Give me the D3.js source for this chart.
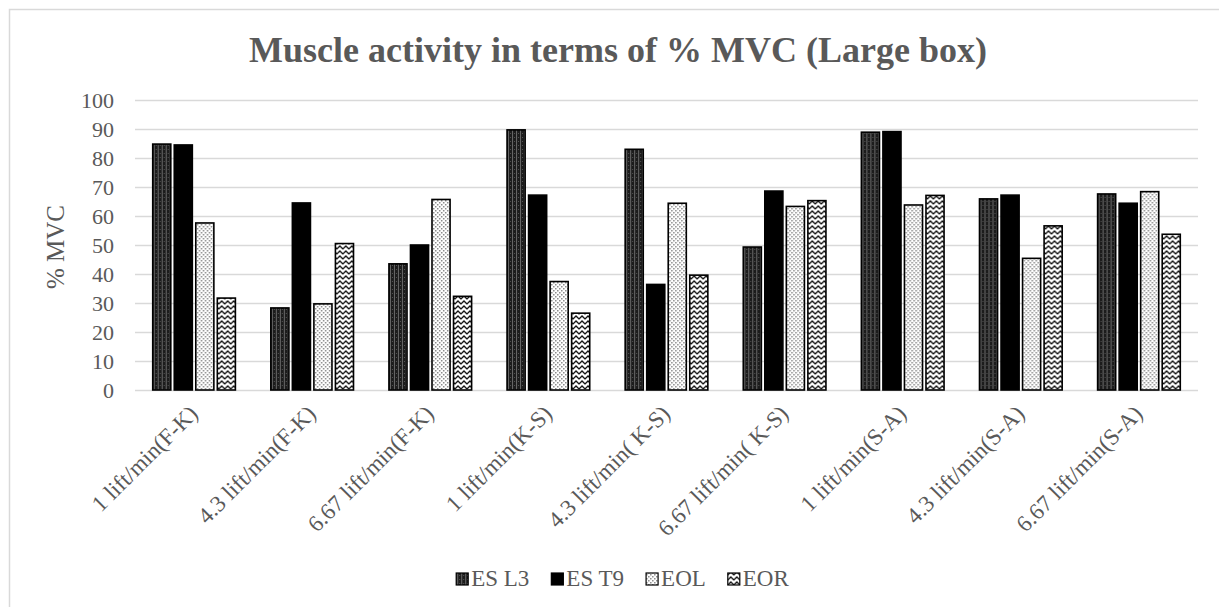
<!DOCTYPE html>
<html><head><meta charset="utf-8">
<script src="https://cdn.jsdelivr.net/npm/d3@7"></script>
<style>html,body{margin:0;padding:0;background:#fff;}svg{display:block;}</style>
</head><body>
<script>
const categories = ["1 lift/min(F-K)","4.3 lift/min(F-K)","6.67 lift/min(F-K)","1 lift/min(K-S)","4.3 lift/min( K-S)","6.67 lift/min( K-S)","1 lift/min(S-A)","4.3 lift/min(S-A)","6.67 lift/min(S-A)"];
const seriesNames = ["ES L3","ES T9","EOL","EOR"];
const esL3 = [84.8, 28.3, 43.5, 89.7, 83.0, 49.3, 88.9, 65.9, 67.6];
const esT9 = [84.5, 64.5, 50.0, 67.2, 36.4, 68.6, 89.1, 67.2, 64.4];
const eol  = [57.6, 29.7, 65.7, 37.4, 64.4, 63.3, 63.8, 45.4, 68.4];
const eor  = [31.7, 50.5, 32.3, 26.5, 39.6, 65.3, 67.1, 56.6, 53.7];
const yTicks = [0,10,20,30,40,50,60,70,80,90,100];
const titleText = "Muscle activity in terms of % MVC (Large box)";
const yTitle = "% MVC";

const seriesValues = [esL3, esT9, eol, eor];
const W = 1219, H = 607;
const txt = "#595959";
const serif = "'Liberation Serif','Times New Roman',serif";

const svg = d3.select("body").append("svg").attr("width", W).attr("height", H);
const defs = svg.append("defs");

const p1 = defs.append("pattern").attr("id","pL3").attr("patternUnits","userSpaceOnUse").attr("width",4).attr("height",4);
p1.append("rect").attr("width",4).attr("height",4).attr("fill","#1c1c1c");
p1.append("rect").attr("x",1).attr("y",0).attr("width",1).attr("height",4).attr("fill","#6a6a6a");
p1.append("rect").attr("x",3).attr("y",1).attr("width",1).attr("height",1).attr("fill","#555");
const p3 = defs.append("pattern").attr("id","pEOL").attr("patternUnits","userSpaceOnUse").attr("width",4).attr("height",4);
p3.append("rect").attr("width",4).attr("height",4).attr("fill","#fff");
p3.append("rect").attr("x",0).attr("y",0).attr("width",1.5).attr("height",1.5).attr("fill","#888");
p3.append("rect").attr("x",2).attr("y",2).attr("width",1.5).attr("height",1.5).attr("fill","#888");
const p4 = defs.append("pattern").attr("id","pEOR").attr("patternUnits","userSpaceOnUse").attr("width",6).attr("height",5);
p4.append("rect").attr("width",6).attr("height",5).attr("fill","#fff");
p4.append("path").attr("d","M-1,4.5 L0,4 L3,1 L6,4 L7,4.5").attr("fill","none").attr("stroke","#111").attr("stroke-width",1.3);

const fills = ["url(#pL3)", "#000", "url(#pEOL)", "url(#pEOR)"];

svg.append("rect").attr("x",9.5).attr("y",9.5).attr("width",W+20).attr("height",H+20)
  .attr("fill","none").attr("stroke","#d9d9d9").attr("stroke-width",1.5);

const plotL = 135, plotR = 1198, plotT = 100, plotB = 390;
const x0 = d3.scaleBand().domain(categories).range([plotL, plotR]).paddingInner(0.3).paddingOuter(0.15);
const x1 = d3.scaleBand().domain(seriesNames).range([0, x0.bandwidth()]).paddingInner(0.16).paddingOuter(0);
const y = d3.scaleLinear().domain([0, 100]).range([plotB, plotT]);

svg.append("g").selectAll("line").data(yTicks).join("line")
  .attr("x1", plotL).attr("x2", plotR)
  .attr("y1", d => Math.round(y(d)) + 0.5).attr("y2", d => Math.round(y(d)) + 0.5)
  .attr("stroke", "#d9d9d9").attr("stroke-width", 1.5);

const yAxis = d3.axisLeft(y).tickValues(yTicks).tickSize(0).tickPadding(0);
const yg = svg.append("g").attr("transform", `translate(${plotL - 21},0)`).call(yAxis);
yg.select(".domain").remove();
yg.selectAll("text").attr("font-family", serif).attr("font-size", 22).attr("fill", txt);

const groups = svg.append("g").selectAll("g").data(categories).join("g")
  .attr("transform", d => `translate(${x0(d)},0)`);
groups.selectAll("rect").data((c, i) => seriesNames.map((s, j) => ({s, j, v: seriesValues[j][i]})))
  .join("rect")
  .attr("x", d => x1(d.s))
  .attr("y", d => y(d.v))
  .attr("width", x1.bandwidth())
  .attr("height", d => y(0) - y(d.v))
  .attr("fill", d => fills[d.j])
  .attr("stroke", "#000").attr("stroke-width", 1.6);

const xAxis = d3.axisBottom(x0).tickSize(0).tickPadding(0);
const xg = svg.append("g").attr("transform", `translate(0,${plotB})`).call(xAxis);
xg.select(".domain").remove();
xg.selectAll("text")
  .attr("font-family", serif).attr("font-size", 23).attr("fill", txt)
  .attr("text-anchor", "end").attr("dy", null).attr("y", 0)
  .attr("transform", "translate(5,25) rotate(-45)");

svg.append("text").attr("x", 618).attr("y", 62).attr("text-anchor", "middle")
  .attr("font-family", serif).attr("font-weight", "bold").attr("font-size", 36)
  .attr("fill", txt).text(titleText);

svg.append("text").attr("transform", "translate(64,247) rotate(-90)").attr("text-anchor", "middle")
  .attr("font-family", serif).attr("font-size", 25).attr("fill", txt).text(yTitle);

const lg = svg.append("g");
const items = lg.selectAll("g").data(seriesNames).join("g");
items.append("rect").attr("width", 12).attr("height", 12).attr("y", -13)
  .attr("fill", (d, i) => fills[i]).attr("stroke", "#000").attr("stroke-width", 1.2);
items.append("text").attr("x", 15).attr("y", 0)
  .attr("font-family", serif).attr("font-size", 23).attr("fill", txt).text(d => d);
let cx = 0;
const gap = 22;
items.each(function() {
  const g = d3.select(this);
  g.attr("transform", `translate(${cx},0)`);
  cx += 15 + g.select("text").node().getComputedTextLength() + gap;
});
const totalW = cx - gap;
lg.attr("transform", `translate(${622.5 - totalW / 2},586)`);
</script>
</body></html>
